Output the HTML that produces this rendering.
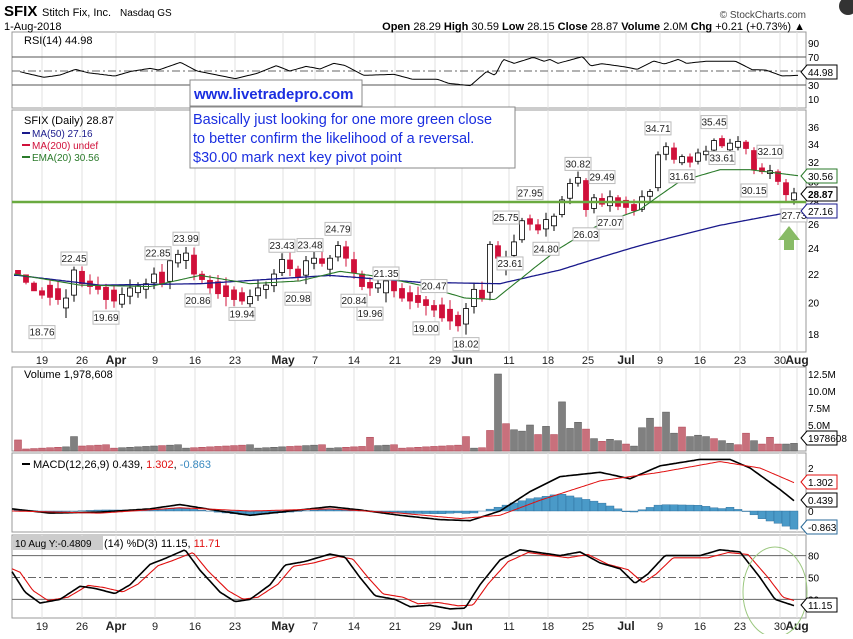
<!DOCTYPE html>
<html><head><meta charset="utf-8"><style>
body{margin:0;background:#fff;}
svg text{font-family:"Liberation Sans",sans-serif;}
</style></head><body>
<svg id="s" width="853" height="634" xmlns="http://www.w3.org/2000/svg"></svg>
<script>
const S=document.getElementById('s');let h='';
const L=12,R=800;
function X(i){return 42+8*i;}
function interp(p,x){if(x<=p[0][0])return p[0][1];for(let k=1;k<p.length;k++){if(x<=p[k][0]){const a=p[k-1],b=p[k];return a[1]+(b[1]-a[1])*(x-a[0])/(b[0]-a[0]);}}return p[p.length-1][1];}
function poly(p,fy,col,w,x0=L,x1=R){let s='';for(let x=x0;x<=x1;x+=2){s+=x+','+fy(interp(p,x)).toFixed(1)+' ';}h+=`<polyline points="${s}" fill="none" stroke="${col}" stroke-width="${w}"/>`;}
function txt(x,y,t,o=''){h+=`<text x="${x}" y="${y}" ${o}>${t}</text>`;}
const panels=[[32,108],[110,352],[367,451],[453,532],[535,618]];
const vx=[42,82,116,155,195,235,283,315,354,395,435,462,509,548,588,626,660,700,740,780,797];
const vl=['19','26','Apr','9','16','23','May','7','14','21','29','Jun','11','18','25','Jul','9','16','23','30','Aug'];
panels.forEach(([a,b])=>{h+=`<rect x="${L}" y="${a}" width="${R-L+6}" height="${b-a}" fill="#fff" stroke="#999"/>`;vx.forEach(x=>h+=`<line x1="${x}" y1="${a}" x2="${x}" y2="${b}" stroke="#e2e2e2"/>`);});
function xlab(y){vx.forEach((x,k)=>{const b=/[A-Z]/.test(vl[k]);txt(x,y,vl[k],`font-size="${b?12:11}" text-anchor="middle" ${b?'font-weight="bold"':''} fill="#222"`);});}
xlab(364);xlab(630);
txt(4,16,'SFIX','font-size="15" font-weight="bold"');txt(42,16,'Stitch Fix, Inc.','font-size="11"');txt(120,16,'Nasdaq GS','font-size="10"');
txt(4,30,'1-Aug-2018','font-size="11"');
txt(806,18,'© StockCharts.com','font-size="10" text-anchor="end" fill="#444"');
txt(805,30,'<tspan font-weight="bold">Open</tspan> 28.29 <tspan font-weight="bold">High</tspan> 30.59 <tspan font-weight="bold">Low</tspan> 28.15 <tspan font-weight="bold">Close</tspan> 28.87 <tspan font-weight="bold">Volume</tspan> 2.0M <tspan font-weight="bold">Chg</tspan> +0.21 (+0.73%) ▲','font-size="11" text-anchor="end"');
h+=`<circle cx="848" cy="6" r="9" fill="#333"/>`;
const ry=v=>57+(70-v)*0.7;
[90,70,50,30,10].forEach(v=>txt(808,ry(v)+4,v,'font-size="10"'));
h+=`<line x1="${L}" x2="806" y1="${ry(70)}" y2="${ry(70)}" stroke="#555"/><line x1="${L}" x2="806" y1="${ry(30)}" y2="${ry(30)}" stroke="#555"/><line x1="${L}" x2="806" y1="${ry(50)}" y2="${ry(50)}" stroke="#666" stroke-dasharray="8,3,2,3"/>`;
const rz=[[36,215],[80,232],[110,225],[138,208],[160,218],[210,228],[240,214],[275,205],[290,210],[330,187],[360,213],[430,236],[470,220],[505,197],[530,213],[560,199],[585,207],[610,190],[630,196],[665,226],[720,223],[755,238],[800,238],[820,250],[860,257],[890,214],[905,226],[920,178],[940,190],[975,172],[995,184],[1005,178],[1020,190],[1065,170],[1080,198],[1100,191],[1140,200],[1165,208],[1195,183],[1215,192],[1240,178],[1255,190],[1290,184],[1345,184],[1375,209],[1400,210],[1430,228],[1460,226]].map(p=>[p[0]*0.547,p[1]/3]);
poly(rz,v=>v,'#000',1,20,799);
txt(24,44,'RSI(14) 44.98','font-size="11"');
const py=p=>127+298.6*Math.log(36/p);
[36,34,32,30,28,26,24,22,20,18].forEach(v=>txt(808,py(v)+4,v,'font-size="10"'));
const ck=[[-3,22],[-1,20.8],[0,20.5],[2,20.2],[3,20.3],[4,22.3],[5,21.3],[6,21.1],[7,20.9],[8,20.2],[9,20.1],[11,21],[13,21.3],[14,22],[15,21.3],[16,23],[17,23.5],[18,23.6],[19,22],[20,21.6],[21,21],[22,20.6],[24,20.2],[25,20.1],[26,20.4],[27,21],[28,21.2],[29,22],[30,23.1],[31,22.4],[32,21.8],[33,23],[34,23.2],[35,22.8],[36,23.2],[37,24.2],[38,23.2],[39,22.1],[40,21.1],[41,21],[42,21.3],[43,21.5],[44,20.8],[45,20.3],[46,20.1],[47,20],[48,19.8],[49,19.5],[50,19],[51,18.8],[52,18.5],[53,19.6],[54,20.9],[55,20.3],[56,24.3],[57,23.2],[58,23.3],[59,24.5],[60,26.3],[61,26],[62,25.5],[63,26.4],[64,26.7],[65,28.2],[66,29.8],[67,30.4],[68,27.3],[69,28.4],[70,27.8],[71,28.5],[72,27.6],[73,27.5],[74,27.2],[75,28.5],[76,29],[77,32.8],[78,33.7],[79,32.3],[80,32.6],[81,32],[82,33],[83,33.2],[84,34.4],[85,33.8],[86,34.1],[87,34.3],[88,33.5],[89,31.2],[90,31],[91,31.1],[92,30],[93,28.7],[94,28.87]];
let prev=22.3,cl=[];
for(let i=-3;i<=94;i++){const c=interp(ck,i);cl.push(c);const up=c>=prev;const dir=up?1:-1;
const bs=Math.max(Math.abs(c-prev)*0.9,0.3+((i*13)%7)*0.09);const o=c-dir*bs;
const hi=Math.max(o,c)+0.25+((i*5)%4)*0.12,lo=Math.min(o,c)-0.25-((i*3)%5)*0.1;const x=X(i);
const col=up?'#000':'#d0103a';h+=`<line x1="${x}" x2="${x}" y1="${py(hi)}" y2="${py(lo)}" stroke="${col}"/>`;
const t=py(Math.max(o,c)),b=py(Math.min(o,c));h+=`<rect x="${x-2.5}" y="${t}" width="5" height="${Math.max(1,b-t)}" fill="${up?'#fff':'#d0103a'}" stroke="${col}" stroke-width="0.8"/>`;prev=c;}
h+=`<line x1="${L}" x2="806" y1="${py(28)}" y2="${py(28)}" stroke="#6aaa40" stroke-width="2.5"/>`;
poly([[18,21.9],[100,21.2],[200,21.3],[330,21.9],[420,21.4],[500,21.3],[560,22.3],[640,24.2],[720,25.9],[780,26.9],[800,27.16]],py,'#1a1a8c',1.3,14,799);
poly([[14,22],[80,21.2],[150,21.1],[200,21.9],[250,21.3],[300,21.5],[340,22.2],[380,21.8],[420,21.2],[465,20.3],[495,20.2],[520,21.6],[560,24],[600,26],[640,27.3],[680,30],[720,31.2],[750,31.2],[800,30.56]],py,'#2a7a2a',1.1,14,799);
const labs=[[0,18.76,1],[4,22.45,0],[8,19.69,1],[14.5,22.85,0],[18,23.99,0],[19.5,20.86,1],[25,19.94,1],[30,23.43,0],[32,20.98,1],[33.5,23.48,0],[37,24.79,0],[39,20.84,1],[41,19.96,1],[43,21.35,0],[49,20.47,0],[48,19.00,1],[53,18.02,1],[58,25.75,0],[58.5,23.61,1],[63,24.80,1],[61,27.95,0],[68,26.03,1],[67,30.82,0],[70,29.49,0],[71,27.07,1],[77,34.71,0],[80,31.61,1],[84,35.45,0],[85,33.61,1],[91,32.10,0],[89,30.15,1],[94,27.73,1]];
labs.forEach(([i,v,d])=>{const x=X(i);let y=py(v);y=d?y+14:y-6;h+=`<rect x="${x-13}" y="${y-10}" width="26" height="13" fill="#fff" stroke="#bbb"/>`;txt(x,y,v.toFixed(2),'font-size="10" text-anchor="middle" fill="#222"');});
function box(y,t,c,bold){h+=`<path d="M801,${y} l6,-7 h30 v14 h-30 z" fill="#fff" stroke="${c}"/>`;txt(808,y+4,t,`font-size="10" ${bold?'font-weight="bold"':''}`);}
box(176,'30.56','#2a7a2a');box(194,'28.87','#000',1);box(211,'27.16','#1a1a8c');box(72,'44.98','#000');
h+=`<path d="M778,240 L789,226 L800,240 L794,240 L794,250 L784,250 L784,240Z" fill="#6aaa40" opacity="0.8"/>`;
txt(24,124,'SFIX (Daily) 28.87','font-size="11"');
h+=`<line x1="22" x2="30" y1="133" y2="133" stroke="#1a1a8c" stroke-width="2"/>`;txt(32,137,'MA(50) 27.16','font-size="10" fill="#1a1a8c"');
h+=`<line x1="22" x2="30" y1="145" y2="145" stroke="#d0103a" stroke-width="2"/>`;txt(32,149,'MA(200) undef','font-size="10" fill="#d0103a"');
h+=`<line x1="22" x2="30" y1="157" y2="157" stroke="#2a7a2a" stroke-width="2"/>`;txt(32,161,'EMA(20) 30.56','font-size="10" fill="#2a7a2a"');
h+=`<rect x="190" y="80" width="172" height="26" fill="#fff" stroke="#888"/>`;txt(194,99,'www.livetradepro.com','font-size="15" font-weight="bold" fill="#1a2ee0"');
h+=`<rect x="190" y="107" width="325" height="61" fill="#fff" stroke="#888"/>`;
['Basically just looking for one more green close','to better confirm the likelihood of a reversal.','$30.00 mark next key pivot point'].forEach((t,k)=>txt(193,124+k*19,t,'font-size="14.5" fill="#1a2ee0"'));
const vy=v=>459-v*6.8;
['12.5M','10.0M','7.5M','5.0M'].forEach((t,k)=>txt(808,vy(12.5-2.5*k)+4,t,'font-size="10"'));
const vs={'-3':[2.8,1],4:[3.3,0],41:[3.2,1],53:[3.3,1],56:[4.2,1],57:[12.5,0],58:[5.2,1],59:[4.3,0],60:[4.1,0],61:[5,0],62:[3.6,1],63:[4.8,0],64:[3.6,1],65:[8.4,0],66:[4.5,0],67:[5.4,0],68:[4.4,1],69:[3,0],70:[2.6,1],71:[2.9,0],72:[2.7,0],73:[2.2,1],74:[1.9,0],75:[4.6,0],76:[6,0],77:[4.7,1],78:[6.9,0],79:[3.8,0],80:[4.7,1],81:[3.3,0],82:[3.5,0],83:[3.3,0],84:[3,1],85:[2.7,0],86:[2.3,0],87:[2.1,1],88:[3.8,1],89:[2.7,0],90:[2.2,1],91:[3.2,1],92:[2.2,1],93:[2.2,0],94:[2.3,0]};
for(let i=-3;i<=94;i++){let v=vs[i];if(!v){v=[1.6+((i*37)%9)/16,cl[i+3]<cl[i+2]?1:0];}const y=vy(v[0]);h+=`<rect x="${X(i)-3.5}" y="${y}" width="7" height="${Math.max(1,451-y)}" fill="${v[1]?'#c8707c':'#808080'}" stroke="${v[1]?'#b04050':'#555'}" stroke-width="0.5"/>`;}
box(438,'1978608','#000');
txt(24,378,'Volume 1,978,608','font-size="11"');
const my=v=>511-v*21.5;
txt(808,my(2)+4,'2','font-size="10"');txt(808,my(0)+4,'0','font-size="10"');
const mc=[[12,0.1],[50,-0.1],[100,-0.05],[150,0.1],[180,0.3],[220,0],[250,-0.2],[290,0],[330,0.2],[360,0.05],[400,-0.2],[440,-0.4],[470,-0.45],[500,0],[530,0.9],[560,1.6],[600,1.8],[630,1.5],[660,2.1],[700,2.4],[730,2.4],[750,2.0],[780,1.0],[795,0.44]];
const sg=[[12,0],[100,-0.1],[180,0.15],[250,0],[330,0.1],[400,-0.1],[460,-0.35],[500,-0.2],[540,0.5],[600,1.4],[660,1.8],[720,2.3],[760,2.0],[795,1.3]];
for(let i=-3;i<=94;i++){const x=X(i);const d=interp(mc,x)-interp(sg,x);const a=my(0),b=my(d);h+=`<rect x="${x-4}" y="${Math.min(a,b)}" width="8" height="${Math.abs(a-b)}" fill="#4a9ac8" stroke="#2a6a98" stroke-width="0.4"/>`;}
poly(mc,my,'#000',1.6,12,795);poly(sg,my,'#e01010',1,12,795);
box(482,'1.302','#e01010');box(500,'0.439','#000');box(527,'-0.863','#2a6a98');
h+=`<line x1="22" x2="30" y1="464" y2="464" stroke="#000" stroke-width="2"/>`;
txt(33,468,'MACD(12,26,9) 0.439, <tspan fill="#e01010">1.302</tspan>, <tspan fill="#3a8ac0">-0.863</tspan>','font-size="11"');
const sy=v=>614-v*0.73;
[80,50,20].forEach(v=>{txt(808,sy(v)+4,v,'font-size="10"');h+=`<line x1="${L}" x2="806" y1="${sy(v)}" y2="${sy(v)}" stroke="#666" ${v==50?'stroke-dasharray="8,3,2,3"':''}/>`;});
const sk=[[12,58],[25,30],[40,15],[60,20],[80,38],[95,35],[115,28],[130,40],[150,68],[165,76],[185,88],[200,60],[220,30],[235,17],[250,20],[270,40],[285,67],[305,72],[330,82],[345,78],[360,50],[375,25],[395,20],[410,10],[430,12],[450,7],[465,8],[480,40],[500,74],[520,88],[560,80],[580,85],[600,70],[620,62],[635,42],[648,55],[665,80],[700,80],[720,88],[740,85],[760,50],[775,20],[795,11]];
const sd=sk.map(p=>[p[0]+8,p[1]*0.9+5]);sd.unshift([12,62]);
poly(sd,sy,'#e01010',1.1,12,795);poly(sk,sy,'#000',1.6,12,795);
h+=`<ellipse cx="775" cy="592" rx="32" ry="45" fill="none" stroke="#9cc880"/>`;
box(605,'11.15','#000');
h+=`<rect x="13" y="536" width="90" height="14" fill="#ccc"/>`;txt(15,547,'10 Aug Y:-0.4809','font-size="10"');
txt(104,547,'(14) %D(3) 11.15, <tspan fill="#e01010">11.71</tspan>','font-size="11"');
S.innerHTML=h;
</script>
</body></html>
